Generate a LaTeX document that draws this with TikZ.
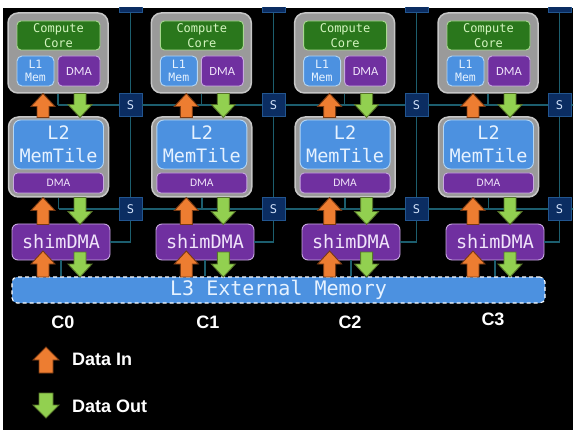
\documentclass[tikz,border=0pt]{standalone}
\usepackage{fontspec}
\setmainfont{DejaVu Sans}
\newfontfamily\monof{DejaVu Sans Mono}
\newfontfamily\calf{Carlito}
\newfontfamily\labf{Liberation Sans}
\usetikzlibrary{calc}
\definecolor{tilegray}{HTML}{9A9A9A}
\definecolor{tileedge}{HTML}{C6C6C6}
\definecolor{ccgreen}{HTML}{2A771C}
\definecolor{ccedge}{HTML}{A8D890}
\definecolor{cctext}{HTML}{D4F5C0}
\definecolor{memblue}{HTML}{4C91E0}
\definecolor{memedge}{HTML}{B4D6F4}
\definecolor{memtext}{HTML}{E6F2FF}
\definecolor{dmapurple}{HTML}{7030A0}
\definecolor{dmaedge}{HTML}{C8A8E0}
\definecolor{dmatext}{HTML}{F0E4FA}
\definecolor{snavy}{HTML}{0B2D62}
\definecolor{sedge}{HTML}{22558F}
\definecolor{stext}{HTML}{D0E0F8}
\definecolor{gridc}{HTML}{1C5E6E}
\definecolor{inorange}{HTML}{ED7D31}
\definecolor{inedge}{HTML}{7A3A12}
\definecolor{outgreen}{HTML}{92D050}
\definecolor{outedge}{HTML}{56742A}
\newcommand\uparr[7]{\filldraw[#1] (#2-#5,#3) -- (#2-#5,#4+#7) -- (#2-#6,#4+#7) -- (#2,#4) -- (#2+#6,#4+#7) -- (#2+#5,#4+#7) -- (#2+#5,#3) -- cycle;}
\newcommand\downarr[7]{\filldraw[#1] (#2-#5,#3) -- (#2-#5,#4-#7) -- (#2-#6,#4-#7) -- (#2,#4) -- (#2+#6,#4-#7) -- (#2+#5,#4-#7) -- (#2+#5,#3) -- cycle;}
\begin{document}
\begin{tikzpicture}[x=1pt,y=-1pt,
  tile/.style={draw=tileedge,fill=tilegray,line width=1.5pt,rounded corners=10pt,inner sep=0pt},
  ccbox/.style={draw=ccedge,fill=ccgreen,line width=0.9pt,rounded corners=4pt,inner sep=0pt,text=cctext,align=center,font=\monof\fontsize{12}{14.5}\selectfont},
  l1box/.style={draw=memedge,fill=memblue,line width=0.9pt,rounded corners=5pt,inner sep=0pt,text=memtext,align=center,font=\monof\fontsize{11.5}{13.5}\selectfont},
  dmabox/.style={draw=dmaedge,fill=dmapurple,line width=0.9pt,rounded corners=4pt,inner sep=0pt,text=dmatext,font=\calf\fontsize{12.5}{14}\selectfont},
  l2box/.style={draw=memedge,fill=memblue,line width=0.9pt,rounded corners=7pt,inner sep=0pt,text=memtext,align=center,font=\monof\fontsize{18.5}{22.5}\selectfont},
  shimbox/.style={draw=dmaedge,fill=dmapurple,line width=0.9pt,rounded corners=6pt,inner sep=0pt,text=dmatext,font=\monof\fontsize{18.5}{22}\selectfont},
  sbox/.style={draw=sedge,fill=snavy,line width=0.9pt,minimum size=23pt,inner sep=0pt,text=stext,font=\monof\fontsize{12}{13}\selectfont},
  grid/.style={draw=gridc,line width=1.5pt},
  inarr/.style={fill=inorange,draw=inedge,line width=0.9pt},
  outarr/.style={fill=outgreen,draw=outedge,line width=0.9pt},
  lab/.style={text=white,font=\labf\bfseries\fontsize{18}{20}\selectfont,inner sep=0pt}]
\useasboundingbox (0,0) rectangle (575,430);
\fill[white] (0,0) rectangle (575,430);
\begin{scope}
\clip (3,8) rectangle (573,430);
\fill[black] (3,8) rectangle (573,430);
\coordinate (redge) at (575,0);
% L3 external memory
\node[draw=white,dash pattern=on 4pt off 3pt,line width=1.1pt,fill=memblue,rounded corners=5pt,
  minimum width=533pt,minimum height=26pt,inner sep=0pt,text=memtext,font=\monof\fontsize{20}{22}\selectfont]
  (l3) at (278.5,290) {L3 External Memory};
\foreach \k/\cx/\sx/\hx in {0/58/130.5/61,1/201.3/273.5/205,2/344.6/416.5/351,3/488/559.5/495}{
  % compute tile
  \node[tile,minimum width=100pt,minimum height=80pt] (ct\k) at (\cx,53) {};
  \node[ccbox,minimum width=83pt,minimum height=29pt] (cc\k) at (\cx+0.5,35.5) {Compute\\Core};
  \node[l1box,minimum width=37pt,minimum height=30pt] (l1\k) at (\cx-22.5,71) {L1\\Mem};
  \node[dmabox,minimum width=42pt,minimum height=30pt] (cd\k) at (\cx+21,71) {DMA};
  % L2 mem tile
  \node[tile,minimum width=100pt,minimum height=80pt] (l2\k) at (\cx+0.5,157) {};
  \node[l2box,minimum width=90pt,minimum height=49pt] (mt\k) at (\cx+0.5,144.5) {L2\\MemTile};
  \node[dmabox,minimum width=90pt,minimum height=20pt,font=\calf\fontsize{11.5}{13}\selectfont] (md\k) at (\cx+0.5,183) {DMA};
  % shim DMA
  \node[shimbox,minimum width=98pt,minimum height=36pt] (sh\k) at (\hx,242) {shimDMA};
  % switches (top row is cut off by the frame, its label not visible)
  \node[sbox] (st\k) at (\sx,1) {};
  \node[sbox] (sa\k) at (\sx,105) {S};
  \node[sbox] (sb\k) at (\sx,209) {S};
  % grid lines
  \draw[grid] (st\k.south) -- (sa\k.north);
  \draw[grid] (sa\k.south) -- (sb\k.north);
  \draw[grid] (sb\k.south) |- (sh\k.east);
  \draw[grid] (ct\k.south) -- (ct\k.south |- sa\k.center);
  \draw[grid] (l2\k.south) -- (l2\k.south |- sb\k.center);
  \draw[grid] (sh\k.south) -- (sh\k.south |- l3.north);
}
\draw[grid] (ct0.south |- sa0.center) -- (sa0.west);
\draw[grid] (l20.south |- sb0.center) -- (sb0.west);
\foreach \a/\b in {0/1,1/2,2/3}{
  \draw[grid] (sa\a.east) -- (sa\b.west);
  \draw[grid] (sb\a.east) -- (sb\b.west);
}
\draw[grid] (sa3.east) -- (sa3.east -| redge);
\draw[grid] (sb3.east) -- (sb3.east -| redge);
% data arrows
\foreach \cx in {58,201.3,344.6,488}{
  \uparr{inarr}{\cx-15}{117.5}{93.5}{6}{12}{13}
  \downarr{outarr}{\cx+22}{93.5}{117.5}{6}{12}{13}
  \uparr{inarr}{\cx-15}{224.5}{197.5}{6}{12}{13}
  \downarr{outarr}{\cx+22}{197.5}{224.5}{6}{12}{13}
  \uparr{inarr}{\cx-15}{277}{251}{6}{12}{13}
  \downarr{outarr}{\cx+22}{252}{277}{6}{12}{13}
}
% column labels
\node[lab] (c0) at (63,322) {C0};
\node[lab] (c1) at (208,322) {C1};
\node[lab] (c2) at (350,322) {C2};
\node[lab] (c3) at (493,319.5) {C3};
% legend
\uparr{inarr}{46}{373}{347}{7}{13}{13}
\downarr{outarr}{46}{393}{418}{7}{13}{13}
\node[lab,anchor=base west] (lin) at (72,365) {Data In};
\node[lab,anchor=base west] (lout) at (72,412) {Data Out};
\end{scope}
\end{tikzpicture}
\end{document}
